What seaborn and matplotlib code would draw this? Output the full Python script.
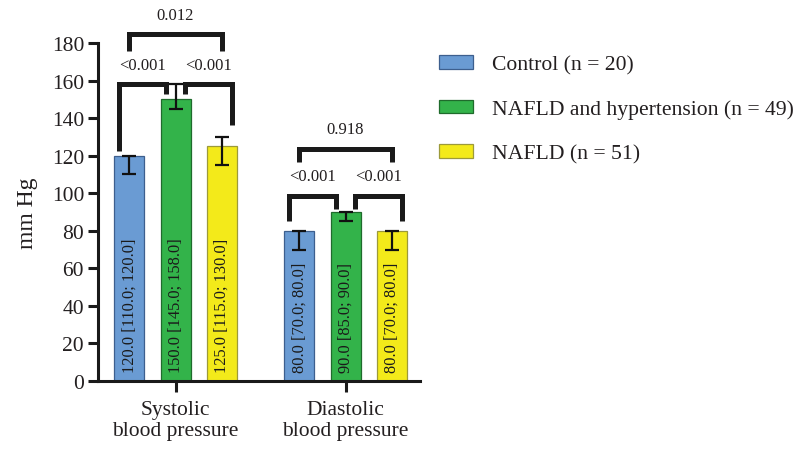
import matplotlib
matplotlib.use("Agg")
import matplotlib.pyplot as plt
import seaborn as sns
import pandas as pd

# ---- data ----
categories = ["Systolic\nblood pressure", "Diastolic\nblood pressure"]
groups = ["Control (n = 20)", "NAFLD and hypertension (n = 49)", "NAFLD (n = 51)"]
median_sys = [120.0, 150.0, 125.0]
q1_sys = [110.0, 145.0, 115.0]
q3_sys = [120.0, 158.0, 130.0]
median_dia = [80.0, 90.0, 80.0]
q1_dia = [70.0, 85.0, 70.0]
q3_dia = [80.0, 90.0, 80.0]
colors = ["#6A9BD3", "#33B34A", "#F3EA1A"]
edge_colors = ["#3D5F8E", "#1F6B2C", "#9C9A3A"]

# p-value annotations: (category index, bar i, bar j, label, bracket y, end y at i, end y at j)
ann_cat = [0, 0, 0, 1, 1, 1]
ann_i = [0, 1, 0, 0, 1, 0]
ann_j = [1, 2, 2, 1, 2, 2]
ann_label = ["<0.001", "<0.001", "0.012", "<0.001", "<0.001", "0.918"]
ann_y = [158.0, 158.0, 184.6, 98.5, 98.5, 123.5]
ann_y_i = [122.5, 152.8, 175.7, 85.2, 91.6, 116.6]
ann_y_j = [152.8, 136.3, 175.7, 91.6, 85.0, 116.6]

rows = []
for c, (med, lo, hi) in enumerate([(median_sys, q1_sys, q3_sys), (median_dia, q1_dia, q3_dia)]):
    for g in range(3):
        rows.append({"category": categories[c], "group": groups[g],
                     "median": med[g], "q1": lo[g], "q3": hi[g]})
df = pd.DataFrame(rows)

sns.set_style("white")
plt.rcParams["font.family"] = ["Liberation Serif", "DejaVu Serif"]
text_color = "#231F20"

fig = plt.figure(figsize=(8.06, 4.52), dpi=100)
ax = fig.add_axes([0.1216, 0.155, 0.40, 0.7477])

sns.barplot(data=df, x="category", y="median", hue="group", order=categories,
            hue_order=groups, palette=colors, errorbar=None, width=0.816, gap=0.35,
            linewidth=0.9, ax=ax, saturation=1)

bar_containers = list(ax.containers)

# edges, error bars and inner labels
centers = {}
for g, cont in enumerate(bar_containers):
    for c, bar in enumerate(cont):
        bar.set_edgecolor(edge_colors[g])
        xc = bar.get_x() + bar.get_width() / 2
        centers[(c, g)] = xc
        row = df[(df["category"] == categories[c]) & (df["group"] == groups[g])].iloc[0]
        ax.errorbar([xc], [row["median"]],
                    yerr=[[row["median"] - row["q1"]], [row["q3"] - row["median"]]],
                    fmt="none", ecolor="#111111", elinewidth=1.6, capsize=5,
                    capthick=1.6, zorder=5)
        ax.text(xc, 5, f"{row['median']:.1f} [{row['q1']:.1f}; {row['q3']:.1f}]",
                rotation=90, ha="center", va="bottom", fontsize=11.8,
                color="#1a1a1a", zorder=6)

# brackets
inner_off = 0.058
outer_off = 0.06
for k in range(len(ann_label)):
    c = ann_cat[k]
    i, j = ann_i[k], ann_j[k]
    xi = centers[(c, i)]
    xj = centers[(c, j)]
    if j - i == 1:
        xi = xi - outer_off if i == 0 else xi + inner_off
        xj = xj - inner_off if j == 1 else xj + outer_off
    ax.plot([xi, xi, xj, xj], [ann_y_i[k], ann_y[k], ann_y[k], ann_y_j[k]],
            color="#1a1a1a", lw=3.6, solid_joinstyle="miter",
            solid_capstyle="butt", clip_on=False, zorder=6)
    ax.text((xi + xj) / 2, ann_y[k] + 10.5, ann_label[k], ha="center", va="center",
            fontsize=12, color=text_color, clip_on=False)

# axes styling
ax.set_ylim(0, 180)
ax.set_yticks(range(0, 181, 20))
ax.set_xlim(-0.456, 1.44)
ax.set_xlabel("")
ax.set_ylabel("mm Hg", fontsize=17, color=text_color, labelpad=10)
for s in ["top", "right"]:
    ax.spines[s].set_visible(False)
for s in ["left", "bottom"]:
    ax.spines[s].set_linewidth(2.2)
    ax.spines[s].set_color("#1a1a1a")
ax.tick_params(axis="y", direction="out", length=7, width=2.2, color="#1a1a1a",
               labelsize=15.5, labelcolor=text_color, pad=3, left=True)
ax.tick_params(axis="x", direction="out", length=8, width=2.2, color="#1a1a1a",
               labelsize=15.5, labelcolor=text_color, pad=6, bottom=True)
for lab in ax.get_xticklabels():
    lab.set_linespacing(1.15)

# legend
handles, labels = ax.get_legend_handles_labels()
if ax.get_legend() is not None:
    ax.get_legend().remove()
for h, ec in zip(handles, edge_colors):
    h.set_edgecolor(ec)
leg = fig.legend(handles, labels, loc="center left", bbox_to_anchor=(0.52, 0.756),
                 frameon=False, fontsize=15.6, handlelength=1.6, handleheight=0.6,
                 handletextpad=0.85, labelspacing=1.15)
for t in leg.get_texts():
    t.set_color(text_color)

fig.savefig("out.png", dpi=100)
